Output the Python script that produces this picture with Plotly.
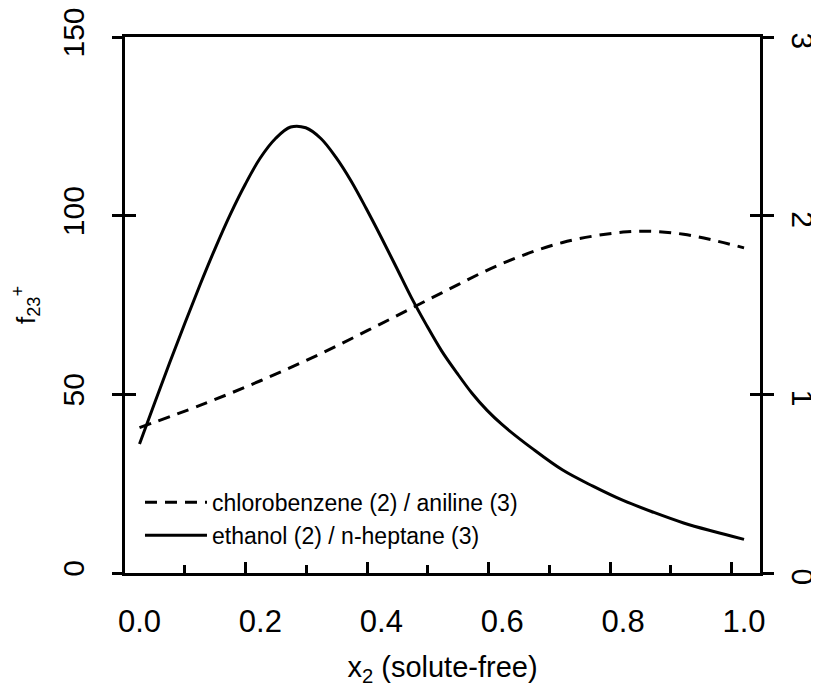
import plotly.graph_objects as go

# ---- data ----
x_solid = [0.0, 0.025, 0.05, 0.075, 0.1, 0.125, 0.15, 0.175, 0.2, 0.225, 0.25, 0.275,
           0.3, 0.325, 0.35, 0.375, 0.4, 0.425, 0.45, 0.475, 0.5, 0.525, 0.55, 0.575,
           0.6, 0.65, 0.7, 0.75, 0.8, 0.85, 0.9, 0.95, 1.0]
y_solid = [36.1, 47.6, 58.9, 69.9, 80.6, 90.8, 100.3, 108.8, 116.2, 121.6, 124.8, 124.6,
           121.6, 116.3, 109.7, 102.0, 93.9, 85.5, 77.0, 69.3, 62.1, 56.0, 50.3, 45.5,
           41.5, 34.8, 28.8, 24.3, 20.3, 17.0, 14.0, 11.6, 9.4]

x_dash = [0.0, 0.1, 0.2, 0.3, 0.4, 0.5, 0.6, 0.7, 0.8, 0.85, 0.9, 0.95, 1.0]
y_dash = [40.7, 46.9, 53.8, 61.4, 69.8, 78.4, 86.6, 92.5, 95.4, 95.6, 94.8, 93.1, 91.0]

name_dash = "chlorobenzene (2) / aniline (3)"
name_solid = "ethanol (2) / n-heptane (3)"

x_ticklabels = [0.0, 0.2, 0.4, 0.6, 0.8, 1.0]
y_left_ticks = [0, 50, 100, 150]
y_right_ticks = [0, 1, 2, 3]

# ---- layout constants ----
# (the page body has an 8px default margin, so the figure is sized/offset for it)
FONT = "Liberation Sans, Arial, sans-serif"
XR = [-0.024, 1.0264]
LW = 3
TW = 2.7
# inward tick marks (drawn offset from labels as in the reference)
tick_major = [XR[0] - 0.0016 + 0.201 * k for k in range(6)]
tick_minor = [XR[0] - 0.0016 + 0.1005 + 0.201 * k for k in range(5)]

fig = go.Figure()
fig.add_trace(go.Scatter(x=x_dash, y=y_dash, mode="lines", name=name_dash,
                         line=dict(color="black", width=3, dash="12px,8px", shape="spline")))
fig.add_trace(go.Scatter(x=x_solid, y=y_solid, mode="lines", name=name_solid,
                         line=dict(color="black", width=3, shape="spline")))
# invisible traces to activate overlay axes
for xa, ya in [("x2", "y"), ("x3", "y"), ("x", "y2"), ("x", "y3"), ("x", "y4")]:
    fig.add_trace(go.Scatter(x=[None], y=[None], xaxis=xa, yaxis=ya, showlegend=False,
                             hoverinfo="skip"))

common = dict(showgrid=False, zeroline=False, automargin=False)

fig.update_layout(
    width=811, height=679,
    margin=dict(l=117, r=58.5, t=29, b=113.5),
    paper_bgcolor="white", plot_bgcolor="white",
    font=dict(family=FONT, color="black"),
    showlegend=True,
    legend=dict(x=0.0236, y=0.172, xanchor="left", yanchor="top",
                bgcolor="rgba(0,0,0,0)", font=dict(size=23, family=FONT),
                itemwidth=62, tracegroupgap=0),
    xaxis=dict(range=XR, tickvals=x_ticklabels, ticktext=[f"{v:.1f}" for v in x_ticklabels],
               ticks="", showline=True, linecolor="black",
               linewidth=LW, mirror=True, tickfont=dict(size=31), ticklabelstandoff=19,
               title=dict(text="x<sub>2</sub> (solute-free)", font=dict(size=29), standoff=28),
               **common),
    xaxis2=dict(range=XR, overlaying="x", anchor="y", side="bottom", tickvals=tick_major,
                ticks="inside", ticklen=11, tickwidth=TW, tickcolor="black",
                showticklabels=False, showline=False, **common),
    xaxis3=dict(range=XR, overlaying="x", anchor="y", side="bottom", tickvals=tick_minor,
                ticks="inside", ticklen=8, tickwidth=TW, tickcolor="black",
                showticklabels=False, showline=False, **common),
    yaxis=dict(range=[0, 150], tickvals=y_left_ticks, ticks="outside", ticklen=10,
               tickwidth=TW, tickcolor="black", tickangle=-90, tickfont=dict(size=30),
               ticklabelstandoff=16, ticklabeloverflow="allow",
               showline=True, linecolor="black", linewidth=LW,
               title=dict(text="f<sub>23</sub><sup>+</sup>", font=dict(size=26), standoff=18),
               **common),
    yaxis3=dict(range=[0, 150], overlaying="y", anchor="x", side="left", tickvals=y_left_ticks,
                ticks="inside", ticklen=11, tickwidth=TW, tickcolor="black",
                showticklabels=False, showline=False, **common),
    yaxis2=dict(range=[0, 3], overlaying="y", anchor="x", side="right", tickvals=y_right_ticks,
                ticks="outside", ticklen=11, tickwidth=TW, tickcolor="black", tickangle=89.9,
                tickfont=dict(size=30), ticklabelstandoff=27, ticklabeloverflow="allow",
                showline=True, linecolor="black", linewidth=LW, **common),
    yaxis4=dict(range=[0, 3], overlaying="y", anchor="x", side="right", tickvals=y_right_ticks,
                ticks="inside", ticklen=10, tickwidth=TW, tickcolor="black",
                showticklabels=False, showline=False, **common),
)

fig.write_html("out.html")
